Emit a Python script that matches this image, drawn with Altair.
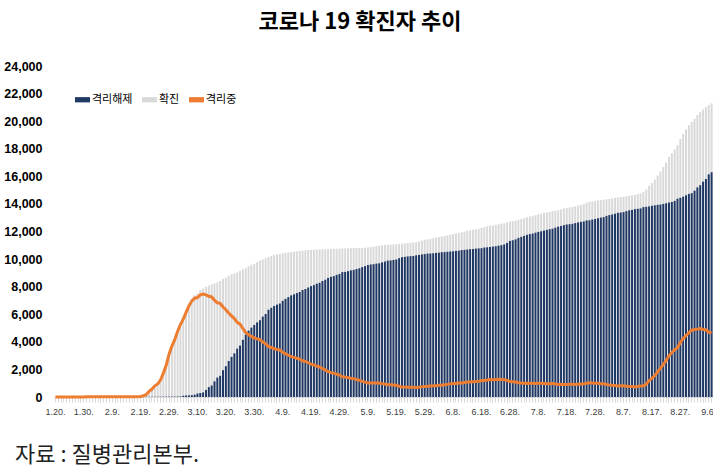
import altair as alt
import pandas as pd

# ---- daily data, 2020-01-20 .. 2020-09-07 (cumulative) ----
conf_jan = [1, 1, 1, 1, 2, 2, 3, 4, 4, 4, 6, 11]
conf_feb = [12, 15, 15, 16, 19, 23, 24, 24, 27, 27, 28, 28, 28, 28, 28, 29, 30, 31, 51, 104,
            204, 433, 602, 833, 977, 1261, 1766, 2337, 3150]
conf_mar = [3736, 4212, 4812, 5328, 5766, 6284, 6767, 7134, 7382, 7513, 7755, 7869, 7979, 8086, 8162,
            8236, 8320, 8413, 8565, 8652, 8799, 8897, 8961, 9037, 9137, 9241, 9332, 9478, 9583, 9661, 9786]
conf_apr = [9887, 9976, 10062, 10156, 10237, 10284, 10331, 10384, 10423, 10450, 10480, 10512, 10537, 10564,
            10591, 10613, 10635, 10653, 10661, 10674, 10683, 10694, 10702, 10708, 10718, 10728, 10738, 10752,
            10761, 10765]
conf_may = [10774, 10780, 10793, 10801, 10804, 10806, 10810, 10822, 10840, 10874, 10909, 10936, 10962, 10991,
            11018, 11037, 11050, 11065, 11078, 11110, 11122, 11142, 11165, 11190, 11206, 11225, 11265, 11344,
            11402, 11441, 11468]
conf_jun = [11503, 11541, 11590, 11629, 11668, 11719, 11776, 11814, 11852, 11902, 11947, 12003, 12051, 12085,
            12121, 12155, 12198, 12257, 12306, 12373, 12421, 12438, 12484, 12535, 12563, 12602, 12653, 12715,
            12757, 12800]
conf_jul = [12850, 12904, 12967, 13030, 13091, 13137, 13181, 13244, 13293, 13338, 13373, 13417, 13479, 13512,
            13551, 13612, 13672, 13711, 13745, 13771, 13816, 13879, 13938, 13979, 14092, 14150, 14175, 14203,
            14251, 14269, 14305]
conf_aug = [14336, 14366, 14389, 14423, 14456, 14499, 14519, 14562, 14598, 14626, 14660, 14714, 14770, 14873,
            15039, 15318, 15515, 15761, 16058, 16346, 16670, 17002, 17399, 17665, 17945, 18265, 18706, 19077,
            19400, 19699, 19947]
conf_sep = [20182, 20449, 20644, 20842, 21010, 21177, 21296]

rel_jan = [0, 0, 0, 0, 0, 0, 0, 0, 0, 0, 0, 0]
rel_feb = [0, 0, 0, 0, 1, 2, 2, 2, 3, 3, 4, 7, 7, 7, 9, 9, 10, 12, 16, 16, 16, 16, 18, 18, 22, 22, 22, 27, 28]
rel_mar = [30, 31, 34, 41, 88, 108, 118, 130, 166, 247, 288, 333, 510, 714, 834, 1137, 1407, 1540, 1947,
           2233, 2612, 2909, 3166, 3507, 3730, 4144, 4528, 4811, 5033, 5228, 5408]
rel_apr = [5567, 5828, 6021, 6325, 6463, 6598, 6694, 6776, 6973, 7117, 7243, 7368, 7447, 7534, 7616, 7757,
           7829, 7937, 8042, 8114, 8213, 8277, 8411, 8501, 8635, 8717, 8764, 8854, 8922, 9059]
rel_may = [9072, 9123, 9183, 9217, 9283, 9332, 9419, 9484, 9568, 9610, 9632, 9670, 9695, 9762, 9821, 9888,
           9904, 9938, 9970, 10066, 10135, 10162, 10194, 10213, 10226, 10275, 10295, 10340, 10363, 10398, 10405]
rel_jun = [10422, 10446, 10467, 10499, 10506, 10531, 10552, 10563, 10591, 10611, 10654, 10669, 10692, 10718,
           10730, 10760, 10774, 10790, 10838, 10856, 10877, 10908, 10930, 10970, 11009, 11060, 11172, 11317,
           11364, 11429]
rel_jul = [11537, 11613, 11684, 11759, 11811, 11848, 11914, 11970, 12019, 12065, 12121, 12164, 12204, 12282,
           12348, 12396, 12464, 12503, 12529, 12558, 12610, 12655, 12700, 12728, 12802, 12812, 12866, 12905,
           12959, 13007, 13043]
rel_aug = [13132, 13191, 13233, 13280, 13352, 13373, 13406, 13475, 13536, 13563, 13624, 13645, 13673, 13770,
           13793, 13817, 13863, 13901, 13934, 13956, 13999, 14050, 14101, 14140, 14219, 14374, 14443, 14521,
           14621, 14725, 14779]
rel_sep = [14958, 15198, 15356, 15612, 15802, 16146, 16297]

iso_jan = [1, 1, 1, 1, 2, 2, 3, 4, 4, 4, 6, 11]
iso_feb = [12, 15, 15, 16, 18, 21, 22, 22, 24, 24, 24, 21, 21, 21, 19, 20, 20, 19, 35, 87,
           186, 415, 578, 807, 945, 1227, 1731, 2297, 3105]
iso_mar = [3686, 4159, 4750, 5255, 5643, 6134, 6605, 6954, 7165, 7212, 7407, 7470, 7402, 7300, 7253, 7024,
           6832, 6789, 6527, 6325, 6085, 5884, 5684, 5410, 5281, 4966, 4665, 4523, 4398, 4275, 4216]
iso_apr = [4155, 3979, 3867, 3654, 3591, 3500, 3445, 3408, 3246, 3125, 3026, 2930, 2873, 2808, 2750, 2627,
           2576, 2484, 2385, 2324, 2233, 2179, 2051, 1967, 1841, 1768, 1731, 1654, 1593, 1459]
iso_may = [1454, 1407, 1360, 1332, 1267, 1219, 1135, 1082, 1016, 1008, 1021, 1008, 1008, 969, 937, 887, 884,
           864, 845, 781, 723, 716, 705, 711, 713, 681, 701, 735, 770, 773, 793]
iso_jun = [810, 823, 850, 857, 889, 915, 951, 978, 985, 1015, 1017, 1057, 1082, 1090, 1114, 1117, 1145, 1188,
           1188, 1237, 1264, 1250, 1273, 1284, 1272, 1260, 1199, 1116, 1111, 1089]
iso_jul = [1031, 1009, 1000, 988, 995, 1004, 982, 989, 989, 986, 965, 965, 986, 941, 914, 925, 915, 914, 921,
           918, 910, 927, 941, 953, 992, 1040, 1010, 999, 992, 962, 961]
iso_aug = [903, 874, 855, 842, 802, 824, 810, 783, 758, 759, 731, 764, 792, 798, 941, 1196, 1347, 1554, 1818,
           2083, 2362, 2643, 2989, 3216, 3416, 3579, 3950, 4242, 4458, 4651, 4844]
iso_sep = [4900, 4922, 4957, 4896, 4874, 4695, 4658]

TICK_LABELS = ["1.20.", "1.30.", "2.9.", "2.19.", "2.29.", "3.10.", "3.20.", "3.30.", "4.9.", "4.19.",
               "4.29.", "5.9.", "5.19.", "5.29.", "6.8.", "6.18.", "6.28.", "7.8.", "7.18.", "7.28.",
               "8.7.", "8.17.", "8.27.", "9.6."]
Y_TICKS = [0, 2000, 4000, 6000, 8000, 10000, 12000, 14000, 16000, 18000, 20000, 22000, 24000]
SERIES = ["격리해제", "확진", "격리중"]
COLORS = ["#203864", "#D9D9D9", "#ED7D31"]

confirmed = conf_jan + conf_feb + conf_mar + conf_apr + conf_may + conf_jun + conf_jul + conf_aug + conf_sep
released = rel_jan + rel_feb + rel_mar + rel_apr + rel_may + rel_jun + rel_jul + rel_aug + rel_sep
isolated = iso_jan + iso_feb + iso_mar + iso_apr + iso_may + iso_jun + iso_jul + iso_aug + iso_sep

dates = pd.date_range("2020-01-20", "2020-09-07")
day_labels = [f"{d.month}.{d.day}." for d in dates]
assert len(day_labels) == len(confirmed) == len(released) == len(isolated)

df = pd.DataFrame({"d": day_labels, "conf": confirmed, "rel": released, "iso": isolated})

FONT_NUM = "Liberation Sans Narrow, Liberation Sans, Arial"
FONT_KR = "Noto Sans CJK KR"

label_list = ",".join(f"'{t}'" for t in TICK_LABELS)
x_enc = alt.X(
    "d:N", sort=day_labels,
    scale=alt.Scale(paddingInner=0.3, paddingOuter=0.15),
    axis=alt.Axis(
        title=None, labelAngle=0, labelOverlap=False,
        labelExpr=f"indexof([{label_list}], datum.label) >= 0 ? datum.label : ''",
        labelFont=FONT_NUM, labelFontSize=9, labelColor="#404040", labelPadding=5,
        domainColor="#D9D9D9", tickColor="#D9D9D9", tickSize=5, grid=False,
    ),
)
y_scale = alt.Scale(domain=[0, 24000], nice=False)
y_axis = alt.Axis(
    title=None, values=Y_TICKS, format=",d", domain=False, ticks=False,
    tickSize=0, grid=False, labelFont=FONT_NUM, labelFontSize=12.5, labelFontWeight="bold",
    labelColor="#000000", labelPadding=12, labelOverlap=False, labelFlush=False,
)
color_scale = alt.Scale(domain=SERIES, range=COLORS)
legend = alt.Legend(
    title=None, orient="none", legendX=21, legendY=26, direction="horizontal",
    symbolType="M-1,-0.35H1V0.35H-1Z", symbolSize=225, symbolStrokeWidth=0,
    labelFont=FONT_KR, labelFontSize=11, labelColor="#000000", labelOffset=2,
    columnPadding=9, padding=0,
)

base = alt.Chart(df)
gray_bars = base.transform_calculate(s="'확진'").mark_bar().encode(
    x=x_enc,
    y=alt.Y("conf:Q", scale=y_scale, axis=y_axis),
    color=alt.Color("s:N", scale=color_scale, legend=legend),
)
navy_bars = base.transform_calculate(s="'격리해제'").mark_bar().encode(
    x=x_enc,
    y=alt.Y("rel:Q", scale=y_scale, axis=y_axis),
    color=alt.Color("s:N", scale=color_scale, legend=legend),
)
iso_line = base.transform_calculate(s="'격리중'").mark_line(strokeWidth=3).encode(
    x=x_enc,
    y=alt.Y("iso:Q", scale=y_scale, axis=y_axis),
    color=alt.Color("s:N", scale=color_scale, legend=None),
)

title_text = alt.Chart(pd.DataFrame({"t": ["코로나 19 확진자 추이"]})).mark_text(
    font=FONT_KR, fontSize=22, fontWeight="bold", color="#000000", align="center", baseline="middle"
).encode(x=alt.value(306), y=alt.value(-44), text="t:N")

source_text = alt.Chart(pd.DataFrame({"t": ["자료 : 질병관리본부."]})).mark_text(
    font=FONT_KR, fontSize=22, color="#222222", align="left", baseline="middle"
).encode(x=alt.value(-39), y=alt.value(389), text="t:N")

chart = alt.layer(gray_bars, navy_bars, iso_line, title_text, source_text).properties(
    width=659, height=331,
    autosize=alt.AutoSizeParams(type="none"),
    padding={"left": 54, "top": 66, "right": 0, "bottom": 71},
    background="white",
).configure_view(stroke=None)

chart.save("out.html", embed_options={"renderer": "svg", "actions": False})
